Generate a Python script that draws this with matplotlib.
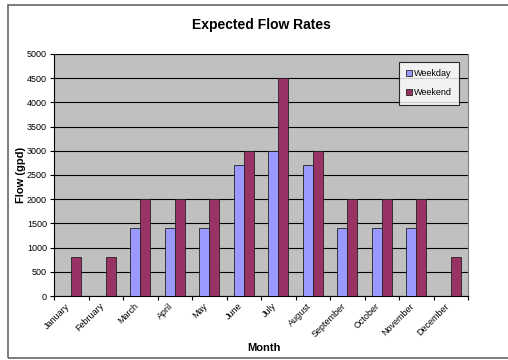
import matplotlib.pyplot as plt
import numpy as np
from matplotlib.patches import Rectangle

plt.rcParams['font.family'] = ['Liberation Sans', 'DejaVu Sans']

# data
months = ['January', 'February', 'March', 'April', 'May', 'June',
          'July', 'August', 'September', 'October', 'November', 'December']
weekday = [0, 0, 1400, 1400, 1400, 2700, 3000, 2700, 1400, 1400, 1400, 0]
weekend = [800, 800, 2000, 2000, 2000, 3000, 4500, 3000, 2000, 2000, 2000, 800]
yticks = np.arange(0, 5001, 500)

# figure
fig = plt.figure(figsize=(5.08, 3.6), dpi=100)
fig.patch.set_facecolor('white')
ax = fig.add_axes([54/508, 1 - 296/360, 414/508, 242/360])

# outer chart frame (right side runs off the picture)
fig.patches.append(Rectangle((8/508, 2/360), 1.2, 353/360, transform=fig.transFigure,
                             fill=False, edgecolor='#666666', linewidth=1.2))

x = np.arange(len(months))
w = 1 / 3.5
ax.bar(x - w/2, weekday, w, color='#9999FF', edgecolor='#222222', linewidth=0.6,
       label='Weekday', zorder=3)
ax.bar(x + w/2, weekend, w, color='#993366', edgecolor='#222222', linewidth=0.6,
       label='Weekend', zorder=3)

# limits & ticks
ax.set_xlim(-0.5, len(months) - 0.5)
ax.set_ylim(0, 5000)
ax.set_yticks(yticks)
ax.set_yticklabels([str(v) for v in yticks], fontsize=6.5)
ax.set_xticks(np.arange(-0.5, len(months)), minor=False)
ax.set_xticklabels([])
ax.set_xticks(x, minor=True)
ax.set_xticklabels(months, minor=True, rotation=45, ha='right', va='top', fontsize=6.5)
ax.tick_params(axis='x', which='minor', length=0, pad=4)
ax.tick_params(axis='x', which='major', length=3, direction='out')
ax.tick_params(axis='y', length=3, direction='out', pad=2)

# background & grid
ax.set_facecolor('#C0C0C0')
ax.yaxis.grid(True, color='black', linewidth=0.8, zorder=1)
ax.set_axisbelow(True)
ax.spines['top'].set_visible(False)
ax.spines['right'].set_color('#808080')
ax.spines['left'].set_color('black')
ax.spines['bottom'].set_color('black')

# labels
fig.text(0.515, 1 - 25/360, 'Expected Flow Rates', ha='center', va='center',
         fontsize=10, fontweight='bold')
fig.text(0.52, 1 - 348/360, 'Month', ha='center', va='center',
         fontsize=8, fontweight='bold')
fig.text(21/508, 1 - 175/360, 'Flow (gpd)', ha='center', va='center',
         rotation=90, fontsize=8, fontweight='bold')

# legend
leg = ax.legend(loc='upper right', bbox_to_anchor=(0.99, 0.985), fontsize=6.5,
                frameon=True, fancybox=False, edgecolor='black',
                handlelength=0.7, handleheight=0.7, handletextpad=0.2,
                labelspacing=1.1, borderpad=0.8)
leg.get_frame().set_linewidth(0.8)

fig.savefig('out.png', dpi=100)
